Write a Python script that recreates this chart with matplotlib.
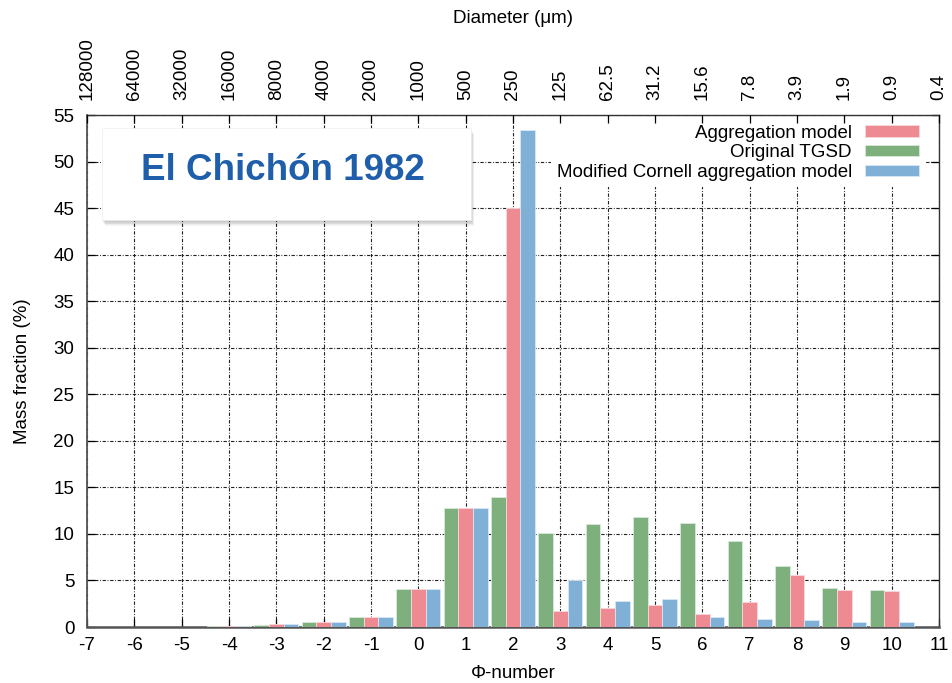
import matplotlib
matplotlib.use("Agg")
import matplotlib.pyplot as plt
from matplotlib.patches import Rectangle
import numpy as np

plt.rcParams['font.family'] = ['Liberation Sans', 'DejaVu Sans']
plt.rcParams['axes.unicode_minus'] = False

# Phi classes and mass fractions (%)
phi = [-4, -3, -2, -1, 0, 1, 2, 3, 4, 5, 6, 7, 8, 9, 10]
original_tgsd = [0.15, 0.25, 0.5, 1.1, 4.1, 12.8, 14.0, 10.1, 11.1, 11.85, 11.2, 9.2, 6.6, 4.2, 4.0]
aggregation = [0.1, 0.3, 0.5, 1.1, 4.1, 12.8, 45.0, 1.7, 2.0, 2.4, 1.45, 2.7, 5.6, 4.0, 3.9]
cornell = [0.1, 0.3, 0.5, 1.1, 4.1, 12.8, 53.4, 5.1, 2.8, 3.0, 1.1, 0.9, 0.7, 0.5, 0.5]

x_ticks = list(range(-7, 12))
diameter_labels = ["128000", "64000", "32000", "16000", "8000", "4000", "2000", "1000",
                   "500", "250", "125", "62.5", "31.2", "15.6", "7.8", "3.9", "1.9", "0.9", "0.4"]

RED = "#EE8A92"
GREEN = "#7EB07E"
BLUE = "#80B0D6"
TITLE_BLUE = "#1E5EAA"
FS = 13.5

fig = plt.figure(figsize=(9.52, 6.83), dpi=100)
ax = fig.add_axes([87 / 952, 56 / 683, 852 / 952, 512 / 683])

w = 0.31
x = np.array(phi, dtype=float)
ax.bar(x - 0.31, original_tgsd, width=w, color=GREEN, edgecolor="#d8ead8", linewidth=0.6,
       zorder=3, label="Original TGSD")
ax.bar(x, aggregation, width=w, color=RED, edgecolor="#f8d8dc", linewidth=0.6,
       zorder=3, label="Aggregation model")
ax.bar(x + 0.31, cornell, width=w, color=BLUE, edgecolor="#d8e8f4", linewidth=0.6,
       zorder=3, label="Modified Cornell aggregation model")

ax.set_xlim(-7, 11)
ax.set_ylim(0, 55)
ax.set_xticks(x_ticks)
ax.set_yticks(range(0, 56, 5))
ax.grid(True, color="#222222", linestyle=(0, (3, 1.5, 0.8, 1.5)), linewidth=0.8, zorder=0)
ax.set_axisbelow(True)
ax.tick_params(axis="both", direction="in", length=6, width=0.9, labelsize=FS,
               top=False, right=True)
ax.tick_params(axis="x", pad=7)
ax.tick_params(axis="y", pad=9)
for s in ax.spines.values():
    s.set_color("#333333")
    s.set_linewidth(1.0)
ax.spines["left"].set_color("#555555")
ax.spines["left"].set_linewidth(1.3)
ax.spines["bottom"].set_linewidth(1.8)
ax.spines["bottom"].set_color("#555555")

ax.set_xlabel("\u03a6-number", fontsize=FS, labelpad=8)
ax.set_ylabel("Mass fraction (%)", fontsize=FS, labelpad=16)

# Top axis with grain diameters
top = ax.twiny()
top.set_xlim(ax.get_xlim())
top.set_xticks(x_ticks)
top.set_xticklabels(diameter_labels, rotation=90)
top.tick_params(axis="x", direction="in", length=6, width=0.9, labelsize=FS, pad=11)
top.set_xlabel("Diameter (\u03bcm)", fontsize=FS, labelpad=10)
for s in top.spines.values():
    s.set_visible(False)

# Legend: opaque key, text right-aligned, colour swatch on the right
handles, labels = ax.get_legend_handles_labels()
order = [1, 0, 2]
leg = ax.legend([handles[i] for i in order], [labels[i] for i in order],
                loc="upper right", bbox_to_anchor=(1 - 14 / 852, 1 - 4 / 512),
                markerfirst=False, frameon=True, fancybox=False, fontsize=FS,
                handlelength=2.9, handleheight=0.53, labelspacing=0.15,
                borderaxespad=0.0, borderpad=0.3, handletextpad=0.7)
leg.get_frame().set_facecolor("white")
leg.get_frame().set_edgecolor("none")
leg.get_frame().set_alpha(1.0)
leg.set_zorder(6)

# Title box with soft drop shadow
bx0, bx1 = (102 - 87) / 852, (471 - 87) / 852
by0, by1 = (627 - 220) / 512, (627 - 128) / 512
for i in range(8, 0, -1):
    off = 0.6 * i
    dx = off / 852
    dy = off / 512
    ax.add_patch(Rectangle((bx0 + dx * 0.6, by0 - dy * 1.2), bx1 - bx0, by1 - by0,
                           transform=ax.transAxes, facecolor="black", edgecolor="none",
                           alpha=0.035, zorder=7))
ax.add_patch(Rectangle((bx0, by0), bx1 - bx0, by1 - by0, transform=ax.transAxes,
                       facecolor="white", edgecolor="#eeeeee", linewidth=0.5, zorder=8))
ax.text((bx0 + bx1) / 2 - 0.004, (by0 + by1) / 2 + 0.006, "El Chich\u00f3n 1982",
        transform=ax.transAxes, ha="center", va="center", fontsize=26.5,
        fontweight="bold", color=TITLE_BLUE, zorder=9)

fig.savefig("out.png", dpi=100)
